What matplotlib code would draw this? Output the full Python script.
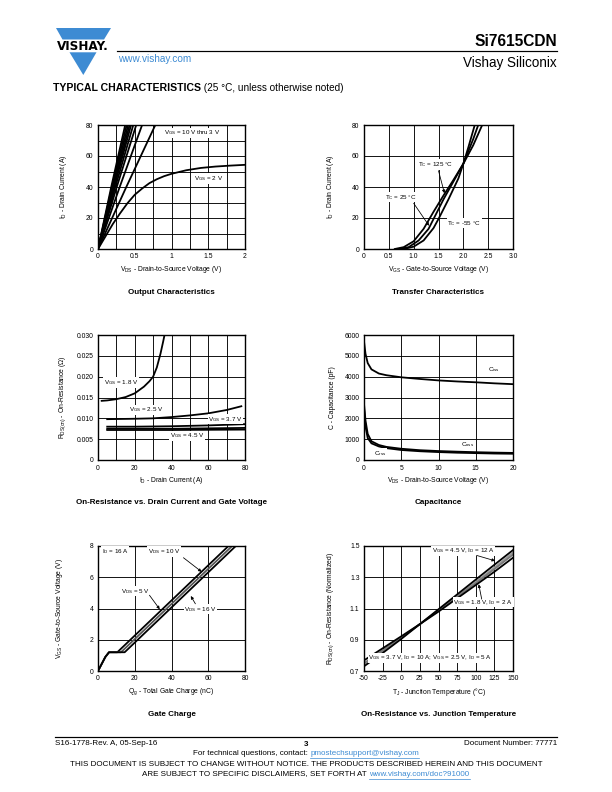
import matplotlib
matplotlib.use("Agg")
import matplotlib.pyplot as plt
from matplotlib.patches import Polygon
from matplotlib.lines import Line2D

plt.rcParams['font.family'] = ['Liberation Sans', 'DejaVu Sans']
plt.rcParams['mathtext.fontset'] = 'custom'
plt.rcParams['mathtext.rm'] = 'Liberation Sans'
plt.rcParams['mathtext.it'] = 'Liberation Sans'
plt.rcParams['axes.unicode_minus'] = False

W, H = 612, 792
BLUE = "#3d8bd3"

# ---- data: output characteristics (VGS = 10 V thru 3 V bundle, and 2 V)
out_id_pts = [0, 40, 80]
out_vds_bundle = [
    [0, 0.18, 0.37],
    [0, 0.19, 0.39],
    [0, 0.20, 0.41],
    [0, 0.21, 0.43],
    [0, 0.22, 0.45],
    [0, 0.235, 0.48],
    [0, 0.255, 0.52],
    [0, 0.295, 0.60],
    [0, 0.385, 0.78],
]
out_vds_2v = [0, 0.1, 0.2, 0.3, 0.4, 0.5, 0.6, 0.7, 0.8, 0.9, 1.0, 1.2, 1.4, 1.6, 1.8, 2.0]
out_id_2v = [0, 8, 16, 23, 29.5, 35, 39, 42.5, 45, 47, 48.5, 50.8, 52.3, 53.2, 53.8, 54.3]

# ---- transfer characteristics
tr_vgs_125 = [0.62, 0.8, 1.0, 1.2, 1.4, 1.6, 1.8, 2.0, 2.2, 2.38]
tr_id_125 = [0, 1.2, 5, 13, 24, 34.5, 44.5, 55, 67, 80]
tr_vgs_25 = [0.70, 0.9, 1.1, 1.3, 1.41, 1.6, 1.8, 2.0, 2.2, 2.30]
tr_id_25 = [0, 1.2, 5.5, 13, 20, 32, 43.5, 55, 71, 80]
tr_vgs_m55 = [0.80, 1.0, 1.2, 1.4, 1.51, 1.7, 1.9, 2.0, 2.1, 2.23]
tr_id_m55 = [0, 1.5, 5.5, 13.5, 20, 32, 45.5, 55, 65.5, 80]

# ---- on-resistance vs drain current
rd_id_18 = [2, 5, 10, 15, 20, 25, 28, 30, 32, 34, 35.5, 36.2]
rd_r_18 = [0.0142, 0.0143, 0.0146, 0.0151, 0.0160, 0.0176, 0.0189, 0.0200, 0.0222, 0.0255, 0.0285, 0.0300]
rd_id_25 = [5, 20, 30, 40, 50, 60, 70, 78]
rd_r_25 = [0.0098, 0.0099, 0.0100, 0.0103, 0.0107, 0.0112, 0.0120, 0.0129]
rd_id_37 = [5, 20, 40, 60, 80]
rd_r_37 = [0.0080, 0.0080, 0.0081, 0.0083, 0.0086]
rd_id_45 = [5, 40, 80]
rd_r_45 = [0.0075, 0.0075, 0.0077]
rd_id_10 = [5, 40, 80]
rd_r_10 = [0.0072, 0.0072, 0.0073]

# ---- capacitance
cap_vds = [0, 0.2, 0.5, 1, 2, 3, 5, 7.5, 10, 12.5, 15, 17.5, 20]
cap_ciss = [5700, 5100, 4650, 4350, 4150, 4070, 3970, 3890, 3820, 3770, 3730, 3680, 3640]
cap_coss = [2700, 1900, 1250, 900, 720, 630, 540, 470, 430, 400, 375, 355, 340]
cap_crss = [2500, 1600, 1050, 800, 650, 570, 480, 420, 380, 350, 330, 310, 300]

# ---- gate charge (ID = 16 A)
gc_qg_5 = [0, 2, 4, 6, 10.5, 71]
gc_vgs_5 = [0, 0.45, 0.9, 1.2, 1.2, 8]
gc_qg_10 = [0, 2, 4, 6, 12.5, 73]
gc_vgs_10 = [0, 0.45, 0.9, 1.2, 1.2, 8]
gc_qg_16 = [0, 2, 4, 6, 14.5, 75]
gc_vgs_16 = [0, 0.45, 0.9, 1.2, 1.2, 8]

# ---- on-resistance vs junction temperature
tj = [-50, -25, 0, 25, 50, 75, 100, 125, 150]
rn_45 = [0.730, 0.815, 0.905, 1.000, 1.095, 1.190, 1.285, 1.380, 1.474]
rn_18 = [0.768, 0.845, 0.922, 1.000, 1.080, 1.165, 1.250, 1.335, 1.425]
rn_37 = [0.742, 0.825, 0.912, 1.000, 1.090, 1.180, 1.270, 1.362, 1.458]
rn_25 = [0.750, 0.832, 0.915, 1.000, 1.087, 1.175, 1.262, 1.352, 1.445]

fig = plt.figure(figsize=(W / 72, H / 72), dpi=72)

TICK = 6.8
ALAB = 6.8
ANN = 6.3


def px_axes(x0, y0, x1, y1):
    return fig.add_axes([x0 / W, 1 - y1 / H, (x1 - x0) / W, (y1 - y0) / H])


def style(ax, xlim, ylim, xmaj, ymaj, xgrid, ygrid, xlab, ylab, title, xtl=None, ytl=None,
          ylab_px=29):
    ax.set_xlim(*xlim)
    ax.set_ylim(*ylim)
    ax.set_xticks(xmaj)
    ax.set_yticks(ymaj)
    if xtl is not None:
        ax.set_xticklabels(xtl)
    if ytl is not None:
        ax.set_yticklabels(ytl)
    ax.set_xticks(xgrid, minor=True)
    ax.set_yticks(ygrid, minor=True)
    ax.grid(True, which='both', color='black', lw=0.9)
    ax.set_axisbelow(True)
    ax.tick_params(which='both', length=0, labelsize=TICK, pad=4.5)
    for s in ax.spines.values():
        s.set_linewidth(1.4)
    ax.set_xlabel(xlab, fontsize=ALAB)
    ax.set_ylabel(ylab, fontsize=ALAB)
    bb = ax.get_position()
    hpx = bb.height * H
    wpx = bb.width * W
    ax.xaxis.set_label_coords(0.5, -15 / hpx)
    ax.yaxis.set_label_coords(-ylab_px / wpx, 0.5)
    ax.text(0.5, -43 / hpx, title, transform=ax.transAxes, ha='center', va='center',
            fontsize=8, fontweight='bold')


def lab(ax, x, y, s, ha='left'):
    ax.text(x, y, s, fontsize=ANN, ha=ha, va='center', zorder=5,
            bbox=dict(facecolor='white', edgecolor='none', pad=0.6))


def arrow(ax, x0, y0, x1, y1):
    ax.annotate('', xy=(x1, y1), xytext=(x0, y0), zorder=6,
                arrowprops=dict(arrowstyle='-|>', color='black', lw=0.8, mutation_scale=6,
                                shrinkA=0, shrinkB=0))


LW = 1.8

# Output characteristics
ax1 = px_axes(98, 125, 245, 249)
for vds in out_vds_bundle:
    ax1.plot(vds, out_id_pts, color='black', lw=LW)
ax1.plot(out_vds_2v, out_id_2v, color='black', lw=LW)
style(ax1, (0, 2), (0, 80), [0, 0.5, 1, 1.5, 2], [0, 20, 40, 60, 80],
      [0.25 * i for i in range(9)], [10 * i for i in range(9)],
      r'V$_{\mathregular{DS}}$ - Drain-to-Source Voltage (V)',
      r'I$_{\mathregular{D}}$ - Drain Current (A)', 'Output Characteristics',
      xtl=['0', '0.5', '1', '1.5', '2'])
lab(ax1, 0.90, 75, r'V$_{\mathregular{GS}}$ = 10 V thru 3 V')
lab(ax1, 1.30, 45.5, r'V$_{\mathregular{GS}}$ = 2 V')

# Transfer characteristics
ax2 = px_axes(364, 125, 513, 249)
ax2.plot(tr_vgs_125, tr_id_125, color='black', lw=LW)
ax2.plot(tr_vgs_25, tr_id_25, color='black', lw=LW)
ax2.plot(tr_vgs_m55, tr_id_m55, color='black', lw=LW)
style(ax2, (0, 3), (0, 80), [0, 0.5, 1, 1.5, 2, 2.5, 3], [0, 20, 40, 60, 80],
      [0.5 * i for i in range(7)], [20 * i for i in range(5)],
      r'V$_{\mathregular{GS}}$ - Gate-to-Source Voltage (V)',
      r'I$_{\mathregular{D}}$ - Drain Current (A)', 'Transfer Characteristics',
      xtl=['0', '0.5', '1.0', '1.5', '2.0', '2.5', '3.0'], ylab_px=28.5)
lab(ax2, 1.08, 54.5, r'T$_{\mathregular{C}}$ = 125 °C')
arrow(ax2, 1.50, 50.5, 1.62, 36)
lab(ax2, 0.42, 33.5, r'T$_{\mathregular{C}}$ = 25 °C')
arrow(ax2, 1.00, 29.5, 1.31, 15)
lab(ax2, 1.68, 16.7, r'T$_{\mathregular{C}}$ = -55 °C')

# On-resistance vs drain current
ax3 = px_axes(98, 335, 245, 460)
ax3.plot(rd_id_18, rd_r_18, color='black', lw=LW)
ax3.plot(rd_id_25, rd_r_25, color='black', lw=LW)
ax3.plot(rd_id_37, rd_r_37, color='black', lw=LW)
ax3.plot(rd_id_45, rd_r_45, color='black', lw=LW)
ax3.plot(rd_id_10, rd_r_10, color='black', lw=LW)
style(ax3, (0, 80), (0, 0.030), [0, 20, 40, 60, 80],
      [0, 0.005, 0.010, 0.015, 0.020, 0.025, 0.030],
      [10 * i for i in range(9)], [0.005 * i for i in range(7)],
      r'I$_{\mathregular{D}}$ - Drain Current (A)',
      r'R$_{\mathregular{DS(on)}}$ - On-Resistance ($\Omega$)',
      'On-Resistance vs. Drain Current and Gate Voltage',
      ytl=['0', '0.005', '0.010', '0.015', '0.020', '0.025', '0.030'], ylab_px=30)
lab(ax3, 3, 0.0186, r'V$_{\mathregular{GS}}$ = 1.8 V')
lab(ax3, 17, 0.0120, r'V$_{\mathregular{GS}}$ = 2.5 V')
lab(ax3, 60, 0.0098, r'V$_{\mathregular{GS}}$ = 3.7 V')
lab(ax3, 39, 0.0058, r'V$_{\mathregular{GS}}$ = 4.5 V')

# Capacitance
ax4 = px_axes(364, 335, 513, 460)
ax4.plot(cap_vds, cap_ciss, color='black', lw=LW)
ax4.plot(cap_vds, cap_coss, color='black', lw=LW)
ax4.plot(cap_vds, cap_crss, color='black', lw=LW)
style(ax4, (0, 20), (0, 6000), [0, 5, 10, 15, 20],
      [0, 1000, 2000, 3000, 4000, 5000, 6000],
      [0, 5, 10, 15, 20], [1000 * i for i in range(7)],
      r'V$_{\mathregular{DS}}$ - Drain-to-Source Voltage (V)',
      'C - Capacitance (pF)', 'Capacitance', ylab_px=28.5)
lab(ax4, 16.6, 4350, r'C$_{\mathregular{iss}}$')
lab(ax4, 13.0, 720, r'C$_{\mathregular{oss}}$')
lab(ax4, 1.4, 320, r'C$_{\mathregular{rss}}$')

# Gate charge
ax5 = px_axes(98, 546, 245, 671)
ax5.plot(gc_qg_5, gc_vgs_5, color='black', lw=LW)
ax5.plot(gc_qg_10, gc_vgs_10, color='#555555', lw=LW)
ax5.plot(gc_qg_16, gc_vgs_16, color='black', lw=LW)
style(ax5, (0, 80), (0, 8), [0, 20, 40, 60, 80], [0, 2, 4, 6, 8],
      [0, 20, 40, 60, 80], [0, 2, 4, 6, 8],
      r'Q$_{\mathregular{g}}$ - Total Gate Charge (nC)',
      r'V$_{\mathregular{GS}}$ - Gate-to-Source Voltage (V)', 'Gate Charge', ylab_px=33)
lab(ax5, 2, 7.65, r'I$_{\mathregular{D}}$ = 16 A')
lab(ax5, 27, 7.65, r'V$_{\mathregular{DS}}$ = 10 V')
arrow(ax5, 46.5, 7.25, 56.4, 6.35)
lab(ax5, 12.7, 5.1, r'V$_{\mathregular{DS}}$ = 5 V')
arrow(ax5, 28, 4.85, 33.6, 3.95)
lab(ax5, 47, 3.95, r'V$_{\mathregular{DS}}$ = 16 V')
arrow(ax5, 53, 4.3, 50.5, 4.8)

# On-resistance vs junction temperature
ax6 = px_axes(364, 546, 513, 671)
ax6.plot(tj, rn_37, color='#999999', lw=LW)
ax6.plot(tj, rn_25, color='#777777', lw=LW)
ax6.plot(tj, rn_45, color='black', lw=LW)
ax6.plot(tj, rn_18, color='black', lw=LW)
style(ax6, (-50, 150), (0.7, 1.5), [-50, -25, 0, 25, 50, 75, 100, 125, 150],
      [0.7, 0.9, 1.1, 1.3, 1.5],
      [-50 + 25 * i for i in range(9)], [0.7, 0.9, 1.1, 1.3, 1.5],
      r'T$_{\mathregular{J}}$ - Junction Temperature (°C)',
      r'R$_{\mathregular{DS(on)}}$ - On-Resistance (Normalized)',
      'On-Resistance vs. Junction Temperature',
      ytl=['0.7', '0.9', '1.1', '1.3', '1.5'], ylab_px=28.5)
lab(ax6, 41, 1.468, r'V$_{\mathregular{GS}}$ = 4.5 V, I$_{\mathregular{D}}$ = 12 A')
arrow(ax6, 101, 1.44, 126, 1.405)
lab(ax6, 70, 1.14, r'V$_{\mathregular{GS}}$ = 1.8 V, I$_{\mathregular{D}}$ = 2 A')
arrow(ax6, 108, 1.16, 104, 1.255)
lab(ax6, -44, 0.783,
    r'V$_{\mathregular{GS}}$ = 3.7 V, I$_{\mathregular{D}}$ = 10 A; V$_{\mathregular{GS}}$ = 2.5 V, I$_{\mathregular{D}}$ = 5 A')


# ---- page header
def fx(x):
    return x / W


def fy(y):
    return 1 - y / H


logo_top = [(56, 28), (111, 28), (104, 39.5), (62.5, 39.5)]
logo_bot = [(69.5, 52.3), (96.5, 52.3), (83.3, 75)]
for pts in (logo_top, logo_bot):
    fig.patches.append(Polygon([(fx(a), fy(b)) for a, b in pts], closed=True,
                               transform=fig.transFigure, facecolor=BLUE, edgecolor='none'))
fig.text(fx(82.5), fy(46), 'VISHAY.', fontsize=12, fontweight='bold', ha='center', va='center',
         family='DejaVu Sans')
fig.lines.append(Line2D([fx(117), fx(557)], [fy(51), fy(51)], transform=fig.transFigure,
                        color='black', lw=1.2))
fig.text(fx(557), fy(41), 'Si7615CDN', fontsize=15.5, fontweight='bold', ha='right', va='center')
fig.text(fx(118), fy(59.5), 'www.vishay.com', fontsize=10, color=BLUE, ha='left', va='center')
fig.text(fx(557), fy(63), 'Vishay Siliconix', fontsize=13.5, ha='right', va='center')

renderer = fig.canvas.get_renderer()


def run(x, y, parts, ha='left'):
    objs = []
    for s, size, color, weight in parts:
        objs.append(fig.text(0, fy(y), s, fontsize=size, color=color, fontweight=weight,
                             ha='left', va='center'))
    widths = [t.get_window_extent(renderer).width for t in objs]
    total = sum(widths)
    start = x if ha == 'left' else x - total / 2
    for t, w, p in zip(objs, widths, parts):
        t.set_x(fx(start))
        if p[2] == BLUE and len(parts) > 1:
            fig.lines.append(Line2D([fx(start), fx(start + w)], [fy(y + 4.5), fy(y + 4.5)],
                                    transform=fig.transFigure, color=BLUE, lw=0.7))
        start += w


run(53, 88, [('TYPICAL CHARACTERISTICS', 10.5, 'black', 'bold'),
             (' (25 °C, unless otherwise noted)', 10, 'black', 'normal')])

# ---- page footer
fig.lines.append(Line2D([fx(55), fx(557)], [fy(737), fy(737)], transform=fig.transFigure,
                        color='black', lw=1.2))
fig.text(fx(55), fy(743.5), 'S16-1778-Rev. A, 05-Sep-16', fontsize=8, ha='left', va='center')
fig.text(fx(306), fy(744), '3', fontsize=8, fontweight='bold', ha='center', va='center')
fig.text(fx(557), fy(743.5), 'Document Number: 77771', fontsize=8, ha='right', va='center')
run(306, 753.5, [('For technical questions, contact: ', 8, 'black', 'normal'),
                 ('pmostechsupport@vishay.com', 8, BLUE, 'normal')], ha='center')
run(306, 764.5, [('THIS DOCUMENT IS SUBJECT TO CHANGE WITHOUT NOTICE. THE PRODUCTS DESCRIBED HEREIN AND THIS DOCUMENT',
                  8, 'black', 'normal')], ha='center')
run(306, 774, [('ARE SUBJECT TO SPECIFIC DISCLAIMERS, SET FORTH AT ', 8, 'black', 'normal'),
               ('www.vishay.com/doc?91000', 8, BLUE, 'normal')], ha='center')

fig.savefig('out.png', dpi=72)
